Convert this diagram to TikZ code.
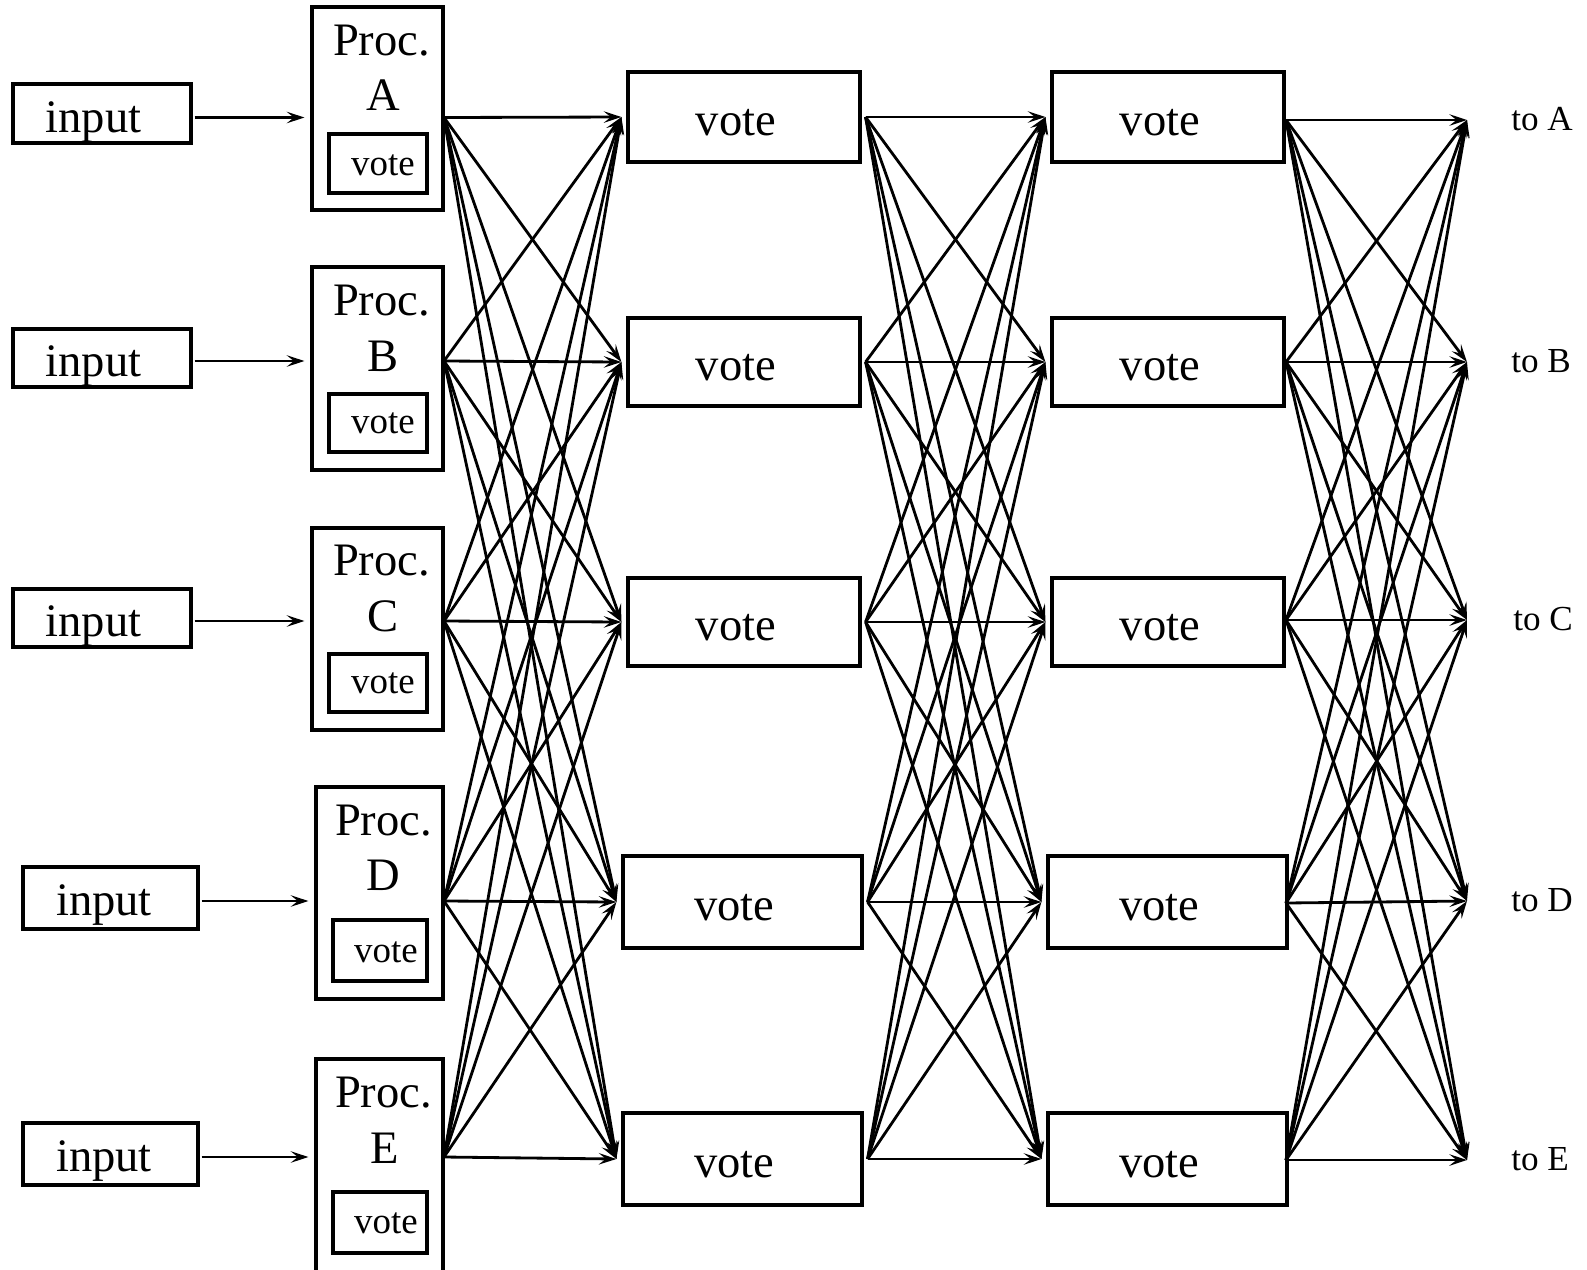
\documentclass[tikz,border=0pt]{standalone}
\usepackage{fontspec}
\setmainfont{Liberation Serif}
\usetikzlibrary{arrows.meta,calc}
\begin{document}
\begin{tikzpicture}[x=0.02cm,y=-0.02cm,
  bx/.style 2 args={draw,line width=1.8pt,inner sep=0pt,minimum width=#1*0.02cm,minimum height=#2*0.02cm},
  big/.style={inner sep=0pt,anchor=base,font=\fontsize{26.5}{30}\selectfont},
  small/.style={inner sep=0pt,anchor=base,font=\fontsize{21}{25}\selectfont},
  tolab/.style={inner sep=0pt,anchor=base west,font=\fontsize{20}{24}\selectfont},
  conn/.style={line width=1.6pt,-{Stealth[length=10pt,width=6.5pt,inset=4pt]}}]
\useasboundingbox (0,0) rectangle (1587,1269);
\clip (0,0) rectangle (1587,1269);
% input boxes
\node[bx={178}{59}] (inA) at (102,113.5) {};
\node[bx={178}{58}] (inB) at (102,358) {};
\node[bx={178}{58}] (inC) at (102,618) {};
\node[bx={175}{62}] (inD) at (110.5,898) {};
\node[bx={175}{62}] (inE) at (110.5,1154) {};
\node[big] (inAt) at (93.5,132) {input};
\node[big] (inBt) at (93.5,376) {input};
\node[big] (inCt) at (93.5,636) {input};
\node[big] (inDt) at (104,915) {input};
\node[big] (inEt) at (104,1171) {input};
% processor boxes
\node[bx={131}{203}] (pA) at (377.5,108.5) {};
\node[bx={131}{203}] (pB) at (377.5,368.5) {};
\node[bx={131}{202}] (pC) at (377.5,629) {};
\node[bx={127}{212}] (pD) at (379.5,893) {};
\node[bx={127}{216}] (pE) at (379.5,1167) {};
\node[big] (pAt) at (381.5,55) {Proc.};
\node[big] (pBt) at (381.5,315) {Proc.};
\node[big] (pCt) at (381.5,575) {Proc.};
\node[big] (pDt) at (383.5,835) {Proc.};
\node[big] (pEt) at (383.5,1107) {Proc.};
\node[big] (pAl) at (383,110) {A};
\node[big] (pBl) at (383,371) {B};
\node[big] (pCl) at (383,631) {C};
\node[big] (pDl) at (383,890) {D};
\node[big] (pEl) at (385,1163) {E};
% inner vote boxes
\node[bx={98}{59}] (ivA) at (378,163.5) {};
\node[bx={98}{58}] (ivB) at (378,423) {};
\node[bx={98}{58}] (ivC) at (378,683) {};
\node[bx={94}{61}] (ivD) at (380,950.5) {};
\node[bx={94}{61}] (ivE) at (380,1222.5) {};
\node[small] (ivAt) at (383,175) {vote};
\node[small] (ivBt) at (383,433) {vote};
\node[small] (ivCt) at (383,693) {vote};
\node[small] (ivDt) at (386,962) {vote};
\node[small] (ivEt) at (386,1233) {vote};
% vote columns
\node[bx={232}{90}] (v1A) at (744,117) {};
\node[bx={232}{88}] (v1B) at (744,362) {};
\node[bx={232}{88}] (v1C) at (744,622) {};
\node[bx={239}{92}] (v1D) at (742.5,902) {};
\node[bx={239}{92}] (v1E) at (742.5,1159) {};
\node[bx={232}{90}] (v2A) at (1168,117) {};
\node[bx={232}{88}] (v2B) at (1168,362) {};
\node[bx={232}{88}] (v2C) at (1168,622) {};
\node[bx={239}{92}] (v2D) at (1167.5,902) {};
\node[bx={239}{92}] (v2E) at (1167.5,1159) {};
\foreach \r in {A,B,C,D,E}{
  \node[big] (v1\r t) at ($(v1\r.center)+(-8,18)$) {vote};
  \node[big] (v2\r t) at ($(v2\r.center)+(-8,18)$) {vote};
}
% to labels
\node[tolab] (toA) at (1511,130) {to A};
\node[tolab] (toB) at (1511,372) {to B};
\node[tolab] (toC) at (1513,630) {to C};
\node[tolab] (toD) at (1511,911) {to D};
\node[tolab] (toE) at (1511,1170) {to E};
% connector end points
\coordinate (s1A) at (444,117.5);
\coordinate (s1B) at (444,361);
\coordinate (s1C) at (444,621);
\coordinate (s1D) at (444,901);
\coordinate (s1E) at (444,1157);
\coordinate (s3A) at (1286,120);
\coordinate (s3B) at (1286,362);
\coordinate (s3C) at (1286,620);
\coordinate (s3D) at (1286,903);
\coordinate (s3E) at (1286,1160);
\coordinate (t3A) at (1467,120);
\coordinate (t3B) at (1467,362);
\coordinate (t3C) at (1467,620);
\coordinate (t3D) at (1467,901);
\coordinate (t3E) at (1467,1160);
\foreach \r in {A,B,C,D,E}{
  \coordinate (t1\r) at ($(v1\r.west)+(-5,0)$);
  \coordinate (s2\r) at ($(v1\r.east)+(4,0)$);
  \coordinate (t2\r) at ($(v2\r.west)+(-5,0)$);
}
% input arrows
\foreach \r in {A,B,C,D,E}{
  \draw[conn] ($(in\r.east |- s1\r)+(2,0)$) -- ($(p\r.west |- s1\r)+(-6,0)$);
}
% full bipartite stages
\foreach \s in {A,B,C,D,E}{
  \foreach \t in {A,B,C,D,E}{
    \draw[conn] (s1\s) -- (t1\t);
    \draw[conn] (s2\s) -- (t2\t);
    \draw[conn] (s3\s) -- (t3\t);
  }
}
\end{tikzpicture}
\end{document}
